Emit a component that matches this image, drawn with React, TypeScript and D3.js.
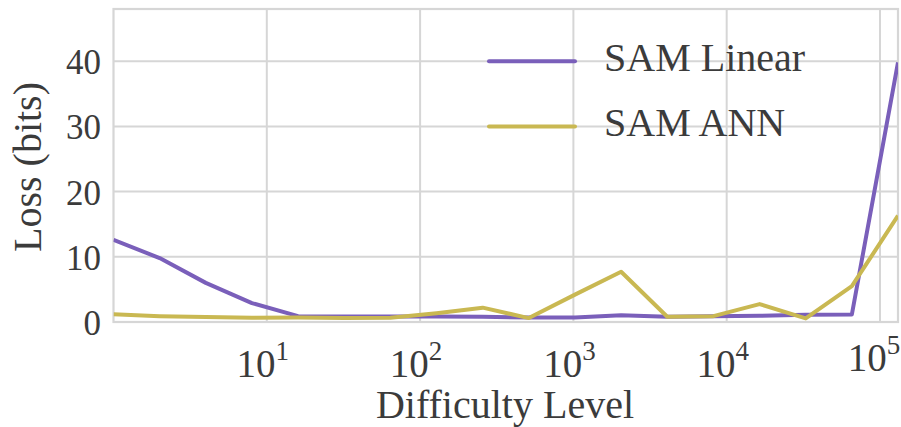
import React from "react";
import * as d3 from "d3";

const exponents = [0, 1, 2, 3, 4, 5, 6, 7, 8, 9, 10, 11, 12, 13, 14, 15, 16, 17];
const levels = exponents.map((k) => Math.pow(2, k));
const samLinear = [12.6, 9.8, 6.0, 2.9, 0.9, 0.85, 0.85, 0.85, 0.8, 0.7, 0.7, 1.05, 0.8, 0.9, 0.95, 1.1, 1.15, 39.8];
const samANN = [1.2, 0.9, 0.75, 0.65, 0.7, 0.6, 0.65, 1.35, 2.2, 0.6, 4.2, 7.7, 0.8, 0.9, 2.75, 0.55, 5.5, 16.3];
const yTicks = [0, 10, 20, 30, 40];
const xTickExps = [1, 2, 3, 4, 5];
const seriesNames = ["SAM Linear", "SAM ANN"];
const seriesColors = ["#7a5fba", "#c9b852"];

const W = 901;
const H = 427;
const L = 113.5;
const R = 898;
const T = 9;
const B = 322;
const GRID = "#d6d6d6";
const TEXT = "#3b3b3b";
const FAM = "Liberation Serif, Tinos, Times New Roman, serif";

export default function App() {
  const x = d3.scaleLog().domain([1, 131072]).range([L, R]);
  const y = d3.scaleLinear().domain([0, 48]).range([B, T]);
  const line = d3
    .line<number>()
    .x((_, i) => x(levels[i]))
    .y((d) => y(d));
  const series = [samLinear, samANN];

  return (
    <svg width={W} height={H} style={{ position: "absolute", left: 0, top: 0, background: "#fff", fontFamily: FAM }}>
      <defs>
        <clipPath id="plotclip">
          <rect x={L} y={T} width={R - L} height={B - T} />
        </clipPath>
      </defs>
      {yTicks.map((t) => (
        <line key={"gy" + t} x1={L} x2={R} y1={y(t)} y2={y(t)} stroke={GRID} strokeWidth={2} />
      ))}
      {xTickExps.map((e) => (
        <line key={"gx" + e} x1={x(Math.pow(10, e))} x2={x(Math.pow(10, e))} y1={T} y2={B} stroke={GRID} strokeWidth={2} />
      ))}
      <rect x={L} y={T} width={R - L} height={B - T} fill="none" stroke={GRID} strokeWidth={2.2} />
      <g clipPath="url(#plotclip)">
        {series.map((s, i) => (
          <path key={i} d={line(s) || ""} fill="none" stroke={seriesColors[i]} strokeWidth={4} strokeLinejoin="round" />
        ))}
      </g>
      {yTicks.map((t) => (
        <text key={"ty" + t} x={101} y={y(t) + 13} textAnchor="end" fontSize={35} fill={TEXT} style={{ fontFamily: FAM }}>
          {t}
        </text>
      ))}
      {xTickExps.map((e) => {
        const off = e === 5 ? { dx: -2, dy: -6 } : { dx: 0, dy: 0 };
        return (
          <text
            key={"tx" + e}
            x={x(Math.pow(10, e)) - 4 + off.dx}
            y={377 + off.dy}
            textAnchor="middle"
            fontSize={39}
            fill={TEXT}
            style={{ fontFamily: FAM }}
          >
            10
            <tspan fontSize={27} dy={-17}>
              {e}
            </tspan>
          </text>
        );
      })}
      <text x={505} y={418} textAnchor="middle" fontSize={40} fill={TEXT} style={{ fontFamily: FAM }}>
        Difficulty Level
      </text>
      <text transform="translate(41, 167) rotate(-90)" textAnchor="middle" fontSize={40} fill={TEXT} style={{ fontFamily: FAM }}>
        Loss (bits)
      </text>
      {seriesNames.map((n, i) => {
        const ly = y(40 - i * 10);
        return (
          <g key={n}>
            <line x1={489} x2={575} y1={ly} y2={ly} stroke={seriesColors[i]} strokeWidth={4} strokeLinecap="round" />
            <text x={604} y={ly + 10} fontSize={40} fill={TEXT} style={{ fontFamily: FAM }}>
              {n}
            </text>
          </g>
        );
      })}
    </svg>
  );
}
